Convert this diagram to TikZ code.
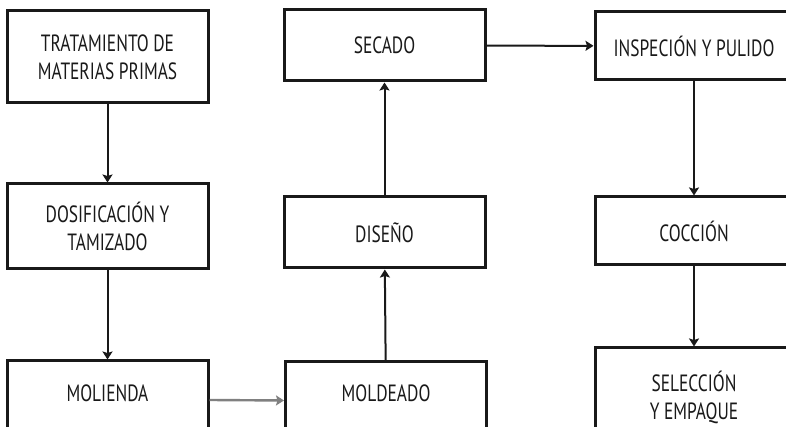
\documentclass[tikz,border=0pt]{standalone}
\usepackage{fontspec}
\setmainfont[FakeStretch=0.74]{PT Sans}
\usetikzlibrary{arrows.meta}
\begin{document}
\begin{tikzpicture}[x=1pt,y=1pt,
  boxfont/.style={font=\fontsize{23.5}{28}\selectfont, text=black!90},
  box/.style={draw=black!90, line width=3pt, fill=white, inner sep=0pt,
    minimum width=201pt, align=center, boxfont},
  tip/.style={-{Stealth[length=8pt,width=10pt,inset=1.5pt]}},
  flow/.style={line width=2pt, draw=black!90, tip},
  grayflow/.style={line width=2.4pt, draw=black!50, tip}]
\useasboundingbox (0,0) rectangle (786,427);
\clip (0,0) rectangle (786,427);
% left column
\node[box, minimum height=92pt] (trat) at (107.5,370) {TRATAMIENTO DE\\MATERIAS PRIMAS};
\node[box, minimum height=85pt] (dosif) at (107.5,200.5) {DOSIFICACIÓN Y\\TAMIZADO};
\node[box, minimum height=78pt, label={[yshift=7pt,boxfont]center:MOLIENDA}] (mol) at (107.5,27) {};
% middle column
\node[box, minimum height=71pt] (sec) at (384.5,381.5) {SECADO};
\node[box, minimum height=71pt] (dis) at (384.5,194.5) {DISEÑO};
\node[box, minimum height=77pt, label={[yshift=7pt,boxfont]center:MOLDEADO}] (mold) at (386,26.5) {};
% right column
\node[box, minimum width=198pt, minimum height=68pt] (insp) at (694,381) {INSPECIÓN Y PULIDO};
\node[box, minimum width=198pt, minimum height=68pt] (coc) at (694,196) {COCCIÓN};
\node[box, minimum width=198pt, minimum height=92pt, label={[yshift=-3pt,boxfont,align=center]center:SELECCIÓN\\Y EMPAQUE}] (sel) at (694,33) {};
% connectors
\draw[flow] (trat) -- (dosif);
\draw[flow] (dosif) -- (mol);
\draw[grayflow] (mol.east) -- (mold.west);
\draw[flow] (mold) -- (dis);
\draw[flow] (dis) -- (sec);
\draw[flow] (sec) -- (insp);
\draw[flow] (insp) -- (coc);
\draw[flow] (coc) -- (sel);
\end{tikzpicture}
\end{document}
